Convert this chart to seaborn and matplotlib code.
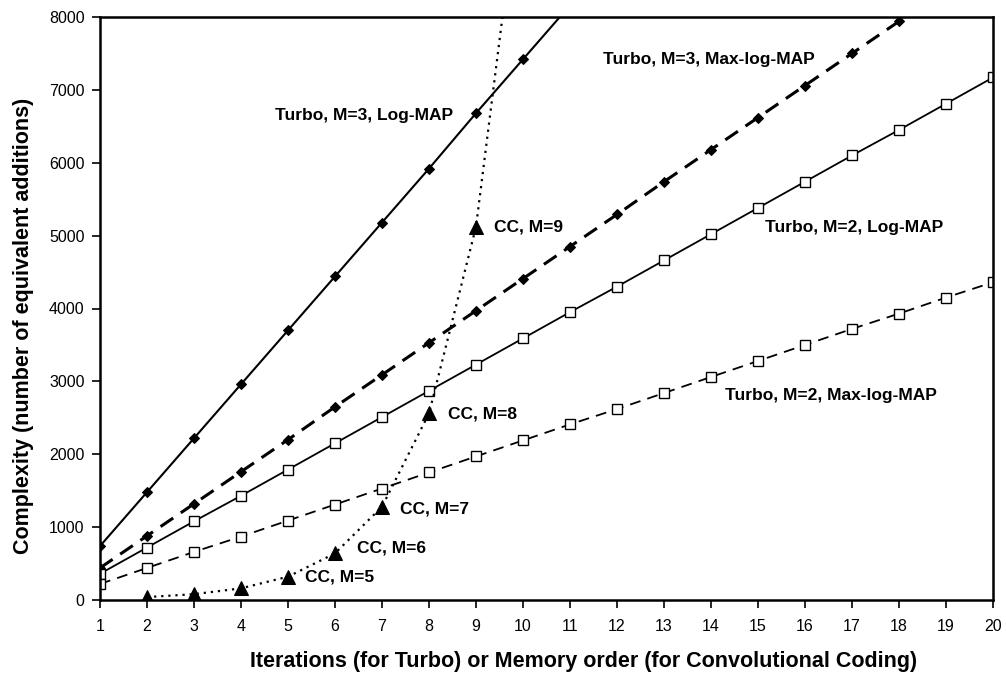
import matplotlib
matplotlib.use("Agg")
import matplotlib.pyplot as plt
import seaborn as sns

# iterations / memory order
iters = list(range(1, 21))
turbo_m3_logmap = [740, 1480, 2220, 2960, 3700, 4440, 5180, 5920, 6680, 7420, 8160]
turbo_m3_maxlog = [440, 880, 1320, 1760, 2200, 2650, 3090, 3530, 3970, 4410,
                   4850, 5290, 5740, 6180, 6620, 7060, 7500, 7940, 8380, 8820]
turbo_m2_logmap = [360, 720, 1080, 1430, 1790, 2150, 2510, 2870, 3230, 3590,
                   3950, 4300, 4660, 5020, 5380, 5740, 6100, 6450, 6810, 7170]
turbo_m2_maxlog = [220, 440, 660, 870, 1090, 1310, 1530, 1750, 1970, 2190,
                   2410, 2620, 2840, 3060, 3280, 3500, 3720, 3930, 4150, 4360]
cc_order = [2, 3, 4, 5, 6, 7, 8, 9, 10]
cc_complexity = [40, 80, 160, 320, 640, 1280, 2560, 5120, 10240]

# labels: (text, x, y)
labels = [
    ("Turbo, M=3, Log-MAP", 4.72, 6650),
    ("Turbo, M=3, Max-log-MAP", 11.7, 7420),
    ("Turbo, M=2, Log-MAP", 15.15, 5117),
    ("Turbo, M=2, Max-log-MAP", 14.3, 2812),
    ("CC, M=9", 9.38, 5117),
    ("CC, M=8", 8.4, 2550),
    ("CC, M=7", 7.38, 1250),
    ("CC, M=6", 6.47, 713),
    ("CC, M=5", 5.36, 315),
]

sns.set_theme(style="ticks")
plt.rcParams['font.family'] = ['Liberation Sans', 'DejaVu Sans']
plt.rcParams.update({"text.color": "black", "axes.labelcolor": "black",
                     "xtick.color": "black", "ytick.color": "black"})

fig = plt.figure(figsize=(10.06, 6.75), dpi=100)
# axes box: left 100px, right 993px, top 17px, bottom 600px
ax = fig.add_axes([100 / 1006, 75 / 675, 893 / 1006, 583 / 675])

sns.lineplot(x=iters[:len(turbo_m3_logmap)], y=turbo_m3_logmap, ax=ax, color="black",
             lw=1.5, marker="D", markersize=5, markeredgecolor="black")
sns.lineplot(x=iters, y=turbo_m3_maxlog, ax=ax, color="black", lw=2.2,
             marker="D", markersize=5, markeredgecolor="black", linestyle=(0, (5, 3)))
sns.lineplot(x=iters, y=turbo_m2_logmap, ax=ax, color="black", lw=1.3,
             marker="s", markersize=6.5, markerfacecolor="white", markeredgecolor="black",
             markeredgewidth=1)
sns.lineplot(x=iters, y=turbo_m2_maxlog, ax=ax, color="black", lw=1.3,
             marker="s", markersize=6.5, markerfacecolor="white", markeredgecolor="black",
             markeredgewidth=1, linestyle=(0, (6, 4)))
sns.lineplot(x=cc_order, y=cc_complexity, ax=ax, color="black", lw=1.6,
             marker="^", markersize=10, markeredgecolor="black", linestyle=(0, (1, 2.2)))

for text, x, y in labels:
    ax.text(x, y, text, fontsize=12.5, fontweight="bold", va="center", ha="left",
            color="black")

ax.set_xlim(1, 20)
ax.set_ylim(0, 8000)
ax.set_xticks(iters)
ax.set_yticks(range(0, 8001, 1000))
ax.tick_params(axis="both", labelsize=11.5, length=6, width=1.2, color="black",
               labelcolor="black")
ax.tick_params(axis="x", pad=8)
ax.tick_params(axis="y", pad=5)
for side in ["top", "right", "left", "bottom"]:
    ax.spines[side].set_visible(True)
    ax.spines[side].set_linewidth(1.8)
    ax.spines[side].set_color("black")

ax.set_xlabel("Iterations (for Turbo) or Memory order (for Convolutional Coding)",
              fontsize=15.5, fontweight="bold", color="black")
ax.set_ylabel("Complexity (number of equivalent additions)",
              fontsize=15.5, fontweight="bold", color="black")
# label placement as in the original (slightly off-centre)
ax.xaxis.set_label_coords(0.541, -0.087)
ax.yaxis.set_label_coords(-0.074, 0.47)

fig.savefig("out.png", dpi=100)
